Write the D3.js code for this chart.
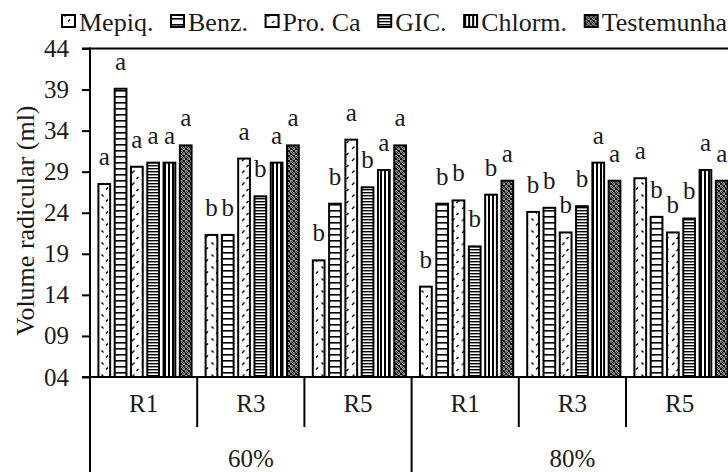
<!DOCTYPE html>
<html>
<head>
<meta charset="utf-8">
<script src="https://cdn.jsdelivr.net/npm/d3@7"></script>
</head>
<body style="margin:0">
<svg id="chart" width="728" height="472" font-family="Liberation Serif, Times New Roman, serif"></svg>
<script>
// Water levels and evaluation rounds (outer/inner category rows)
const levels = ["60%", "80%"];
const rounds = ["R1", "R3", "R5"];
const treatments = ["Mepiq.", "Benz.", "Pro. Ca", "GIC.", "Chlorm.", "Testemunha"];

// Root volume (ml) per treatment, order: 60% R1,R3,R5, 80% R1,R3,R5
const mepiq   = [27.5, 21.3, 18.2, 15.0, 24.1, 28.2];
const benz    = [39.1, 21.3, 25.1, 25.1, 24.6, 23.5];
const proCa   = [29.6, 30.6, 32.9, 25.5, 21.6, 21.6];
const gic     = [30.1, 26.0, 27.1, 19.9, 24.8, 23.3];
const chlorm  = [30.1, 30.1, 29.2, 26.2, 30.1, 29.2];
const testem  = [32.2, 32.2, 32.2, 27.9, 27.9, 27.9];

// Mean-comparison letters
const mepiqLetters  = ["a", "b", "b", "b", "b", "a"];
const benzLetters   = ["a", "b", "b", "b", "b", "b"];
const proCaLetters  = ["a", "a", "a", "b", "b", "b"];
const gicLetters    = ["a", "b", "b", "b", "b", "b"];
const chlormLetters = ["a", "a", "a", "b", "a", "a"];
const testemLetters = ["a", "a", "a", "a", "a", "a"];

const yTicks = [4, 9, 14, 19, 24, 29, 34, 39, 44];

const seriesValues = [mepiq, benz, proCa, gic, chlorm, testem];
const seriesLetters = [mepiqLetters, benzLetters, proCaLetters, gicLetters, chlormLetters, testemLetters];
const patternIds = ["pMepiq", "pBenz", "pProCa", "pGic", "pChlorm", "pTest"];

const groups = [];
levels.forEach(l => rounds.forEach(r => groups.push(l + "|" + r)));

const svg = d3.select("#chart");
const FONT = 25;
const SERIF = '"Liberation Serif", "Times New Roman", serif';
const INK = "#1a1a1a";

// ---- fill patterns ----
const defs = svg.append("defs");
function pat(id, w, h) {
  return defs.append("pattern").attr("id", id).attr("patternUnits", "userSpaceOnUse")
    .attr("width", w).attr("height", h);
}
{
  const p = pat("pMepiq", 10, 12);
  p.append("rect").attr("width", 10).attr("height", 12).attr("fill", "#fff");
  p.append("path").attr("d", "M1.5,2.5 L3.5,4.5 M6,9.5 L8,7.5").attr("stroke", "#000").attr("stroke-width", 1.3).attr("fill", "none");
}
{
  const p = pat("pProCa", 10, 12);
  p.append("rect").attr("width", 10).attr("height", 12).attr("fill", "#fff");
  p.append("path").attr("d", "M2,5 L4.5,2.5 M6.5,11 L8.5,9").attr("stroke", "#000").attr("stroke-width", 1.3).attr("fill", "none");
}
{
  const p = pat("pBenz", 8, 6);
  p.append("rect").attr("width", 8).attr("height", 6).attr("fill", "#fff");
  p.append("rect").attr("y", 0).attr("width", 8).attr("height", 1.6).attr("fill", "#000");
}
{
  const p = pat("pGic", 8, 3);
  p.append("rect").attr("width", 8).attr("height", 3).attr("fill", "#fff");
  p.append("rect").attr("y", 0).attr("width", 8).attr("height", 1.4).attr("fill", "#000");
}
{
  const p = pat("pChlorm", 4, 8);
  p.append("rect").attr("width", 4).attr("height", 8).attr("fill", "#fff");
  p.append("rect").attr("x", 0).attr("width", 2).attr("height", 8).attr("fill", "#000");
}
{
  const p = pat("pTest", 5, 5);
  p.append("rect").attr("width", 5).attr("height", 5).attr("fill", "#111");
  p.append("circle").attr("cx", 1.25).attr("cy", 1.25).attr("r", 1.05).attr("fill", "none").attr("stroke", "#fff").attr("stroke-width", 0.7);
  p.append("circle").attr("cx", 3.75).attr("cy", 3.75).attr("r", 1.05).attr("fill", "none").attr("stroke", "#fff").attr("stroke-width", 0.7);
}

// ---- scales ----
const left = 90, axisY = 377, topY = 48.5;
const groupStep = 107.2;
const x0 = d3.scaleBand().domain(groups).range([left, left + groupStep * groups.length]).padding(0);
const x1 = d3.scaleBand().domain(d3.range(treatments.length)).range([0, x0.bandwidth()])
  .paddingInner(0.28).paddingOuter(0.43).align(0.6);
const y = d3.scaleLinear().domain([4, 44]).range([axisY, topY]);

function label(sel, size) {
  return sel.style("font-family", SERIF).attr("font-size", size).attr("fill", INK);
}

// ---- bars ----
const barData = [];
seriesValues.forEach((vals, s) => vals.forEach((v, g) => barData.push({ s, g, v, letter: seriesLetters[s][g] })));

svg.append("g").selectAll("rect").data(barData).join("rect")
  .attr("x", d => x0(groups[d.g]) + x1(d.s))
  .attr("y", d => y(d.v))
  .attr("width", x1.bandwidth())
  .attr("height", d => y(4) - y(d.v))
  .attr("fill", d => `url(#${patternIds[d.s]})`)
  .attr("stroke", "#000").attr("stroke-width", 2);

label(svg.append("g").selectAll("text").data(barData).join("text")
  .attr("x", d => x0(groups[d.g]) + x1(d.s) + x1.bandwidth() / 2)
  .attr("y", d => y(d.v) - 19)
  .attr("text-anchor", "middle")
  .text(d => d.letter), FONT);

// ---- y axis ----
const yAxis = svg.append("g").attr("transform", `translate(${left},0)`)
  .call(d3.axisLeft(y).tickValues(yTicks).tickSize(8).tickPadding(13).tickFormat(d3.format("02d")));
yAxis.attr("font-family", null).attr("font-size", null);
yAxis.select(".domain").remove();
yAxis.selectAll(".tick line").attr("stroke", "#000").attr("stroke-width", 2);
label(yAxis.selectAll(".tick text"), FONT);

// frame lines
svg.append("line").attr("x1", left).attr("x2", left).attr("y1", topY - 1).attr("y2", 472)
  .attr("stroke", "#000").attr("stroke-width", 2);
svg.append("line").attr("x1", left - 8).attr("x2", 728).attr("y1", topY).attr("y2", topY)
  .attr("stroke", "#000").attr("stroke-width", 2);
svg.append("line").attr("x1", left - 8).attr("x2", 728).attr("y1", axisY).attr("y2", axisY)
  .attr("stroke", "#000").attr("stroke-width", 2);

// category table below the axis
groups.forEach((g, i) => {
  const xr = x0(g) + x0.bandwidth();
  const isLevelEnd = (i + 1) % rounds.length === 0;
  svg.append("line").attr("x1", xr).attr("x2", xr).attr("y1", axisY)
    .attr("y2", isLevelEnd ? 472 : 427).attr("stroke", "#000").attr("stroke-width", 2);
  label(svg.append("text").attr("x", x0(g) + x0.bandwidth() / 2).attr("y", 412)
    .attr("text-anchor", "middle").text(g.split("|")[1]), FONT);
});
levels.forEach(l => {
  const a = x0(l + "|" + rounds[0]);
  const b = x0(l + "|" + rounds[rounds.length - 1]) + x0.bandwidth();
  label(svg.append("text").attr("x", (a + b) / 2).attr("y", 467)
    .attr("text-anchor", "middle").text(l), FONT);
});

// y title
label(svg.append("text")
  .attr("transform", `translate(34,${(axisY + topY) / 2 + 8}) rotate(-90)`)
  .attr("text-anchor", "middle")
  .text("Volume radicular (ml)"), 26);

// ---- legend: items spread across the top row from x=62 to x=727 ----
const legend = svg.append("g");
const legStart = 62, legEnd = 727, swatchW = 13, swatchGap = 4;
const items = treatments.map((t, i) => {
  const gItem = legend.append("g");
  gItem.append("rect").attr("y", 15).attr("width", swatchW).attr("height", 12)
    .attr("fill", `url(#${patternIds[i]})`).attr("stroke", "#000").attr("stroke-width", 2);
  const txt = label(gItem.append("text").attr("x", swatchW + swatchGap).attr("y", 31).text(t), 26);
  return { g: gItem, w: swatchW + swatchGap + txt.node().getComputedTextLength() };
});
const totalW = d3.sum(items, d => d.w);
const gap = Math.max(6, (legEnd - legStart - totalW) / (items.length - 1));
let lx = legStart;
items.forEach(it => {
  it.g.attr("transform", `translate(${lx},0)`);
  lx += it.w + gap;
});
</script>
</body>
</html>
